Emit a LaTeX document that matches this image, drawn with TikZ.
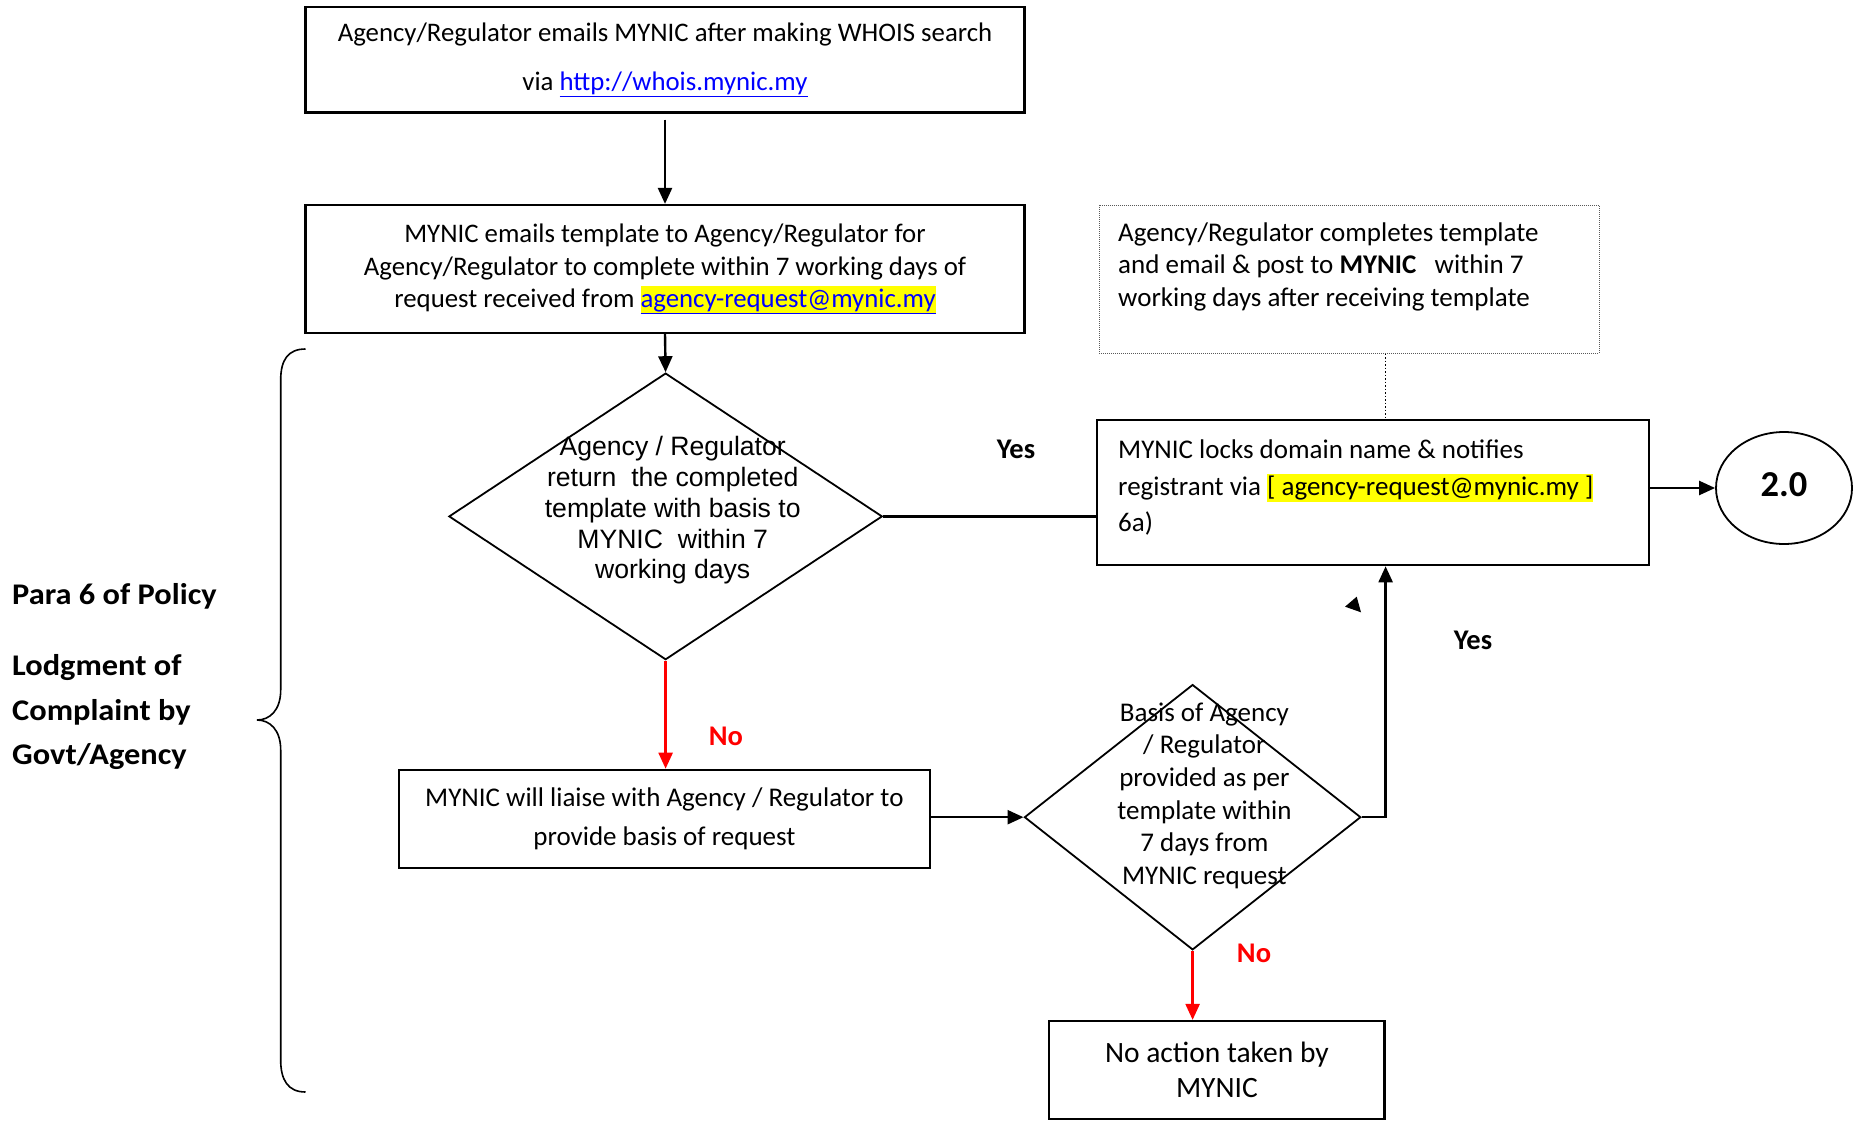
\documentclass[tikz,border=0pt]{standalone}
\usepackage{fontspec}
\setmainfont{Carlito}
\newfontfamily\arialf{Liberation Sans}
\newfontfamily\sidef[FakeStretch=1.08]{Carlito}
\usetikzlibrary{shapes.geometric,arrows.meta}
\definecolor{linkblue}{RGB}{0,0,255}
\definecolor{hlyellow}{RGB}{255,255,0}
\definecolor{nored}{RGB}{255,0,0}
\newcommand\lnk[1]{\textcolor{linkblue}{\underline{#1}}}
\newcommand\hlt[1]{{\setlength{\fboxsep}{0pt}\colorbox{hlyellow}{\rule[-6.5pt]{0pt}{28pt}#1}}}
\begin{document}
\begin{tikzpicture}[x=1pt,y=-1pt,
  box/.style={draw=black, line width=2.2pt, rectangle, inner sep=0pt, align=center},
  dotbox/.style={draw=black!65, line width=1pt, dash pattern=on 1pt off 1pt, rectangle, inner sep=0pt},
  dia/.style={draw=black, line width=1.8pt, diamond, inner sep=0pt},
  txt/.style={inner sep=0pt},
  arr/.style={line width=2.4pt, -{Triangle[length=16pt,width=14pt]}},
  redarr/.style={arr, draw=nored, color=nored},
  lbl/.style={inner sep=0pt, font=\bfseries\fontsize{28.5}{30}\selectfont},
  redlbl/.style={lbl, text=nored},
  side/.style={inner sep=0pt, anchor=west, align=left, font=\sidef\bfseries\fontsize{30}{44.4}\selectfont}
]
\useasboundingbox (0,0) rectangle (1857,1121);

\node[box, minimum width=719, minimum height=105.5, font=\fontsize{26.8}{49}\selectfont] (b1) at (665,59.7)
  {\raisebox{-2pt}{Agency/Regulator emails MYNIC after making WHOIS search}\\\raisebox{-2pt}{via \lnk{http://whois.mynic.my}}};

\node[box, minimum width=719, minimum height=128, font=\fontsize{26.8}{32.5}\selectfont] (b2) at (665,269)
  {MYNIC emails template to Agency/Regulator for\\Agency/Regulator to complete within 7 working days of\\request received from \hlt{\lnk{agency-request@mynic.my}}};

\node[dotbox, minimum width=500, minimum height=148] (b3) at (1349,279) {};
\node[txt, anchor=north west, align=left, font=\fontsize{27}{32.5}\selectfont] (t3) at (1118,222.5)
  {Agency/Regulator completes template\\and email \& post to \textbf{MYNIC}\ \ \ within 7\\working days after receiving template};

\node[box, minimum width=552, minimum height=145] (b4) at (1372.6,492.7) {};
\node[txt, anchor=north west, align=left, font=\fontsize{27}{36.6}\selectfont] (t4) at (1118,439.5)
  {MYNIC locks domain name \& notifies\\registrant via \hlt{[ agency-request@mynic.my ]}\\6a)};

\node[draw, ellipse, line width=1.8pt, minimum width=136, minimum height=112, inner sep=0pt,
  font=\bfseries\fontsize{36.5}{40}\selectfont] (e) at (1784,488) {\raisebox{6pt}{2.0}};

\node[dia, minimum width=433.4, minimum height=286.6] (d1) at (665.6,516.4) {};
\node[txt, align=center, font=\arialf\fontsize{26.6}{30.8}\selectfont] (t1) at (672.7,510.4)
  {Agency / Regulator\\return\ \ the completed\\template with basis to\\MYNIC\ \ within 7\\working days};

\node[dia, minimum width=336.4, minimum height=265.3] (d2) at (1192.6,817.2) {};
\node[txt, align=center, font=\fontsize{27}{32.7}\selectfont] (t2) at (1204.4,795.8)
  {Basis of Agency\\/ Regulator\\provided as per\\template within\\7 days from\\MYNIC request};

\node[box, minimum width=530.7, minimum height=98.2, font=\fontsize{27}{39}\selectfont] (b5) at (664.4,818.9)
  {\raisebox{-2.4pt}{MYNIC will liaise with Agency / Regulator to}\\\raisebox{-2.4pt}{provide basis of request}};

\node[box, minimum width=335.2, minimum height=98, font=\fontsize{29.5}{35.5}\selectfont] (b6) at (1216.9,1070)
  {\raisebox{1pt}{No action taken by}\\\raisebox{1pt}{MYNIC}};

\node[lbl] (y1) at (1016,449) {Yes};
\node[lbl] (y2) at (1473,640.7) {Yes};
\node[redlbl] (n1) at (726,736.6) {No};
\node[redlbl] (n2) at (1254,953.4) {No};

\node[side] (p6) at (12,596) {Para 6 of Policy};
\node[side] (lc) at (12,712.3) {Lodgment of\\Complaint by\\Govt/Agency};

\coordinate (vx) at (1385.6,400);
\draw[arr] ([yshift=-6pt]b1.south) -- (b2.north);
\draw[arr] (b2.south) -- (d1.north);
\draw[line width=2.2pt] (d1.east) -- (d1.east -| b4.west);
\draw[line width=1.5pt, dotted] (vx |- b3.south) -- (vx |- b4.north);
\draw[arr] (b4.east |- e.west) -- (e.west);
\draw[redarr] (d1.south) -- (d1.south |- b5.north);
\draw[arr] (b5.east |- d2.west) -- (d2.west);
\draw[arr] (d2.east) -| (vx |- b4.south);
\draw[redarr] (d2.south) -- (d2.south |- b6.north);
\fill (1345,606.7) -- (1356.7,596.7) -- (1361,612.3) -- cycle;

\draw[line width=1.6pt] (305.5,349) .. controls (288,349) and (280.7,360) .. (280.7,380)
  -- (280.7,690) .. controls (280.7,710) and (270,720) .. (257,720)
  .. controls (270,720) and (280.7,730) .. (280.7,750)
  -- (280.7,1060) .. controls (280.7,1080) and (288,1092) .. (305.5,1092);
\end{tikzpicture}
\end{document}
